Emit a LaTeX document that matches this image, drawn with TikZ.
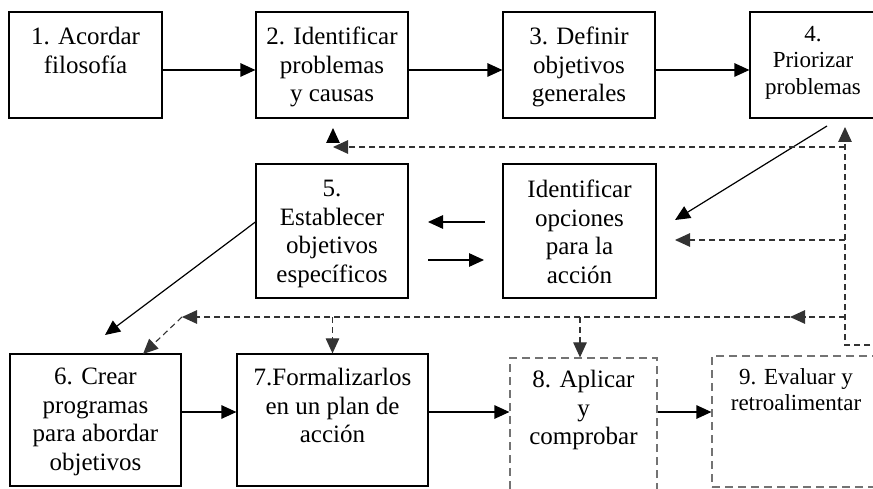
\documentclass[tikz,border=0pt]{standalone}
\usepackage{fontspec}
\setmainfont{Liberation Serif}
\usetikzlibrary{arrows.meta}
\begin{document}
\begin{tikzpicture}[x=1pt,y=-1pt,
  box/.style={draw=black, line width=1.2pt, rectangle, inner sep=0pt},
  dbox/.style={draw=black!55, line width=1.2pt, rectangle, inner sep=0pt, dash pattern=on 8pt off 5pt},
  txt/.style={align=center, anchor=north, inner sep=0pt, font=\fontsize{25}{28.5}\selectfont},
  stxt/.style={align=center, anchor=north, inner sep=0pt, font=\fontsize{23}{26.5}\selectfont},
  ar/.style={-{Triangle[length=15pt,width=13.5pt]}, line width=1.2pt, draw=black},
  dar/.style={-{Triangle[length=15pt,width=13.5pt]}, line width=1.1pt, draw=black!80, dash pattern=on 6pt off 4pt},
  dln/.style={line width=1.1pt, draw=black!80, dash pattern=on 6pt off 4pt}
]
\useasboundingbox (0,0) rectangle (873,489);
\clip (0,0) rectangle (873,489);
\fill[white] (0,0) rectangle (873,489);

% boxes
\node[box, minimum width=153pt, minimum height=106pt] (b1) at (85.5,65) {};
\node[box, minimum width=152pt, minimum height=106pt] (b2) at (332,65) {};
\node[box, minimum width=152pt, minimum height=106pt] (b3) at (579,65) {};
\node[box, minimum width=126pt, minimum height=106pt] (b4) at (813,65) {};
\node[box, minimum width=152pt, minimum height=134pt] (b5) at (332,231) {};
\node[box, minimum width=153pt, minimum height=134pt] (bo) at (579.5,231) {};
\node[box, minimum width=171pt, minimum height=132pt] (b6) at (95.5,420) {};
\node[box, minimum width=191pt, minimum height=132pt] (b7) at (332.5,420) {};
\node[dbox, minimum width=147pt, minimum height=142pt] (b8) at (583.5,429) {};
\node[dbox, minimum width=168pt, minimum height=131pt] (b9) at (796,421.5) {};

% texts
\node[txt] (t1) at (b1.north |- 0,27) {1. Acordar\\filosofía};
\node[txt] (t2) at (b2.north |- 0,27) {2. Identificar\\problemas\\y causas};
\node[txt] (t3) at (b3.north |- 0,27) {3. Definir\\objetivos\\generales};
\node[stxt] (t4) at (b4.north |- 0,26) {4.\\Priorizar\\problemas};
\node[txt] (t5) at (b5.north |- 0,180) {5.\\Establecer\\objetivos\\específicos};
\node[txt] (to) at (bo.north |- 0,180) {Identificar\\opciones\\para la\\acción};
\node[txt] (t6) at (b6.north |- 0,368) {6. Crear\\programas\\para abordar\\objetivos};
\node[txt] (t7) at (b7.north |- 0,368) {7.Formalizarlos\\en un plan de\\acción};
\node[txt] (t8) at (b8.north |- 0,370) {8. Aplicar\\y\\comprobar};
\node[stxt] (t9) at (b9.north |- 0,368) {9. Evaluar y\\retroalimentar};

% main solid arrows
\draw[ar] (b1.east |- 0,70) -- (b2.west |- 0,70);
\draw[ar] (b2.east |- 0,70) -- (b3.west |- 0,70);
\draw[ar] (b3.east |- 0,70) -- (b4.west |- 0,70);
\coordinate (p4) at (827,126);
\coordinate (po) at (675,220);
\draw[ar] (p4) -- (po);
\coordinate (oL1) at (485,222);
\coordinate (oL2) at (428,222);
\draw[ar] (oL1) -- (oL2);
\coordinate (oR1) at (428,260);
\coordinate (oR2) at (484,260);
\draw[ar] (oR1) -- (oR2);
\coordinate (p6) at (105,335);
\draw[ar] (b5.west |- 0,222) -- (p6);
\draw[ar] (b6.east |- 0,412) -- (b7.west |- 0,412);
\draw[ar] (b7.east |- 0,412) -- (b8.west |- 0,412);
\draw[ar] (b8.east |- 0,412) -- (b9.west |- 0,412);

% dashed feedback
\coordinate (f0) at (900,345);
\coordinate (fc) at (845,345);
\coordinate (f4) at (845,127);
\draw[dar] (f0) -- (fc) -- (f4);
\coordinate (fa) at (845,147);
\coordinate (fa2) at (333,147);
\draw[dar] (fa) -- (fa2);
\coordinate (up1) at (333,142);
\coordinate (up2) at (333,128);
\draw[ar] (up1) -- (up2);
\coordinate (fb) at (845,240);
\coordinate (fb2) at (675,240);
\draw[dar] (fb) -- (fb2);
\coordinate (fd) at (845,317);
\coordinate (fd1) at (790,317);
\coordinate (fd2) at (182,317);
\coordinate (fd3) at (143,354);
\draw[dar] (fd) -- (fd1);
\draw[dln] (fd1) -- (fd2);
\draw[dar] (790,317) -- (fd2);
\draw[dar] (fd2) -- (fd3);
\coordinate (d7) at (332.5,317);
\coordinate (d8) at (580,317);
\draw[dar] (d7) -- (b7.north);
\draw[dar] (d8) -- (b8.north -| d8);
\end{tikzpicture}
\end{document}
